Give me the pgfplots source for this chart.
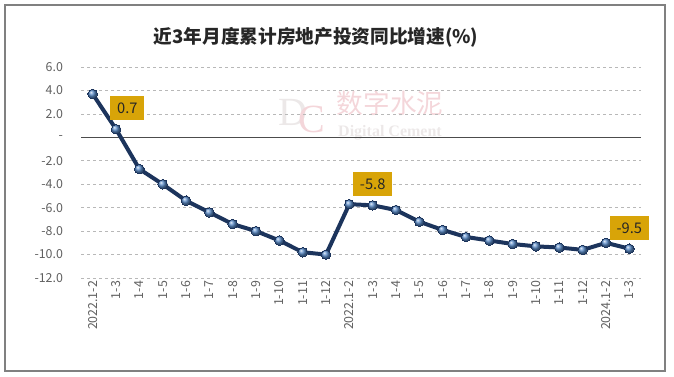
\documentclass[border=0pt]{standalone}
\usepackage{fontspec}
\setmainfont{Noto Sans CJK SC}
\newfontfamily\serifwm{Liberation Serif}
\usepackage{pgfplots}
\pgfplotsset{compat=1.18}
\definecolor{linec}{RGB}{28,52,92}
\definecolor{markc}{RGB}{88,138,200}
\definecolor{goldc}{RGB}{216,164,8}
\definecolor{tickc}{RGB}{96,96,96}
\definecolor{wmpink}{RGB}{244,214,218}
\definecolor{wmgray}{RGB}{236,232,232}
\pgfplotstableread{
x y
0 3.7
1 0.7
2 -2.7
3 -4.0
4 -5.4
5 -6.4
6 -7.4
7 -8.0
8 -8.8
9 -9.8
10 -10.0
11 -5.7
12 -5.8
13 -6.2
14 -7.2
15 -7.9
16 -8.5
17 -8.8
18 -9.1
19 -9.3
20 -9.4
21 -9.6
22 -9.0
23 -9.5
}\datatable
\begin{document}
\begin{tikzpicture}
\path[use as bounding box] (0,0) rectangle ({674*0.75pt},{-376*0.75pt});
\draw[color=black!50, line width=0.9pt] ({5*0.75pt},{-5*0.75pt}) rectangle ({665*0.75pt},{-371*0.75pt});
\node[font=\bfseries\fontsize{14}{16}\selectfont, text=black!85] at ({316*0.75pt},{-37*0.75pt}) {近3年月度累计房地产投资同比增速(\%)};
% watermark
\node[font=\serifwm\fontsize{30}{30}\selectfont, text=wmpink, inner sep=0pt] at ({302*0.75pt},{-116*0.75pt}) {\textcolor{wmgray}{D}\kern-7pt\raisebox{-5pt}{C}};
\node[font=\fontsize{20}{21}\selectfont, text=wmpink, inner sep=0pt] at ({390*0.75pt},{-103*0.75pt}) {数字水泥};
\node[font=\serifwm\bfseries\fontsize{12}{13}\selectfont, text=wmgray, inner sep=0pt] at ({390*0.75pt},{-133*0.75pt}) {Digital Cement};
\begin{axis}[
  at={({81*0.75pt},{-278*0.75pt})}, anchor=south west,
  scale only axis, width=420pt, height=158.25pt,
  xmin=-0.5, xmax=23.5, ymin=-12, ymax=6,
  clip=false,
  axis line style={draw=none},
  tick style={draw=none},
  ytick={-12,-10,...,6},
  yticklabels={-12.0,-10.0,-8.0,-6.0,-4.0,-2.0,-,2.0,4.0,6.0},
  xtick={0,...,23},
  xticklabels={2022.1-2,1-3,1-4,1-5,1-6,1-7,1-8,1-9,1-10,1-11,1-12,2022.1-2,1-3,1-4,1-5,1-6,1-7,1-8,1-9,1-10,1-11,1-12,2024.1-2,1-3},
  x tick label style={rotate=90, anchor=east, font=\fontsize{9.3}{10}\selectfont, text=tickc, inner sep=2pt},
  y tick label style={font=\fontsize{9.3}{10}\selectfont, text=tickc, xshift=-10pt},
  ymajorgrids,
  major grid style={color=black!28, dash pattern=on 2.5pt off 2pt, line width=0.5pt},
]
\draw[color=black!70, line width=0.8pt] (axis cs:-0.5,0) -- (axis cs:23.5,0);
\addplot[color=linec, line width=3pt, mark=ball, mark size=3.6pt, mark options={ball color=markc, line width=0pt}] table[x=x,y=y] {\datatable};
\node[fill=goldc, anchor=south, xshift=8.5pt, yshift=6.5pt, minimum height=18pt, inner xsep=5pt, font=\fontsize{11}{12}\selectfont, text=black!85] at (axis cs:1,0.7) {0.7};
\node[fill=goldc, anchor=south, yshift=6.5pt, minimum height=18pt, inner xsep=5pt, font=\fontsize{11}{12}\selectfont, text=black!85] at (axis cs:12,-5.8) {-5.8};
\node[fill=goldc, anchor=south, yshift=6.5pt, minimum height=18pt, inner xsep=5pt, font=\fontsize{11}{12}\selectfont, text=black!85] at (axis cs:23,-9.5) {-9.5};
\end{axis}
\end{tikzpicture}
\end{document}
